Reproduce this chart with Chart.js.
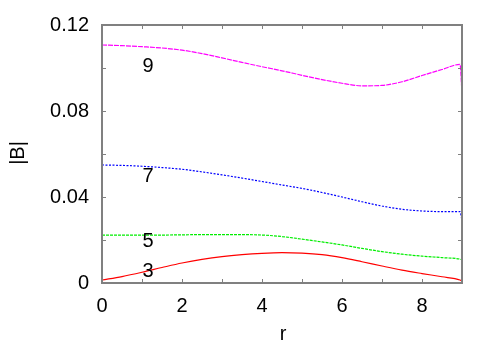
<!DOCTYPE html>
<html><head><meta charset="utf-8">
<script src="https://cdn.jsdelivr.net/npm/chart.js@4/dist/chart.umd.min.js"></script>
<style>html,body{margin:0;padding:0;background:#fff}#wrap{width:500px;height:350px}</style>
</head><body><div id="wrap"><canvas id="c" width="500" height="350"></canvas></div>
<script>
const r = [0,0.5,1,1.5,2,2.5,3,3.5,4,4.5,5,5.5,6,6.5,7,7.5,8,8.5,8.95,9];
const b9 = [0.1107,0.1104,0.1099,0.1093,0.1083,0.1067,0.1047,0.1026,0.1006,0.0987,0.0966,0.0946,0.0929,0.0917,0.0919,0.0936,0.0965,0.0993,0.1017,0.0882];
const b7 = [0.0549,0.0547,0.0543,0.0537,0.0529,0.0517,0.0503,0.0488,0.0472,0.0456,0.0440,0.0421,0.0400,0.0378,0.0358,0.0343,0.0335,0.0332,0.0332,0.0290];
const b5 = [0.0223,0.0223,0.0223,0.0223,0.0224,0.0225,0.0225,0.0225,0.0223,0.0216,0.0204,0.0191,0.0177,0.0161,0.0146,0.0134,0.0125,0.0118,0.0111,0.0108];
const b3 = [0.0014,0.0030,0.0050,0.0072,0.0093,0.0110,0.0123,0.0132,0.0138,0.0141,0.0139,0.0132,0.0118,0.0099,0.0079,0.0060,0.0044,0.0029,0.0014,0.0009];
const seriesLabels = ['9','7','5','3'];
const labelR = 1.15;
const labelVals = [0.1005,0.0497,0.0195,0.0053];
const xTicks = [0,1,2,3,4,5,6,7,8,9];
const yTicks = [0,0.02,0.04,0.06,0.08,0.10,0.12];
const xTitle = 'r';
const yTitle = '|B|';

const FONT = '"Liberation Sans", Arial, sans-serif';
const pts = ys => r.map((x,i)=>({x:x,y:ys[i]}));
const mk = (ys,color,dash)=>({data:pts(ys),borderColor:color,borderWidth:1.2,borderDash:dash,pointRadius:0,cubicInterpolationMode:'monotone',fill:false});

const deco = {
  id:'deco',
  afterDatasetsDraw(chart){
    const ctx=chart.ctx, xs=chart.scales.x, ys=chart.scales.y, a=chart.chartArea;
    ctx.save();
    ctx.strokeStyle='#808080'; ctx.lineWidth=2;
    ctx.strokeRect(a.left,a.top,a.right-a.left,a.bottom-a.top);
    ctx.lineWidth=1;
    ctx.beginPath();
    xTicks.forEach(v=>{const p=Math.round(xs.getPixelForValue(v))+0.5;
      ctx.moveTo(p,a.bottom);ctx.lineTo(p,a.bottom-4);ctx.moveTo(p,a.top);ctx.lineTo(p,a.top+4);});
    yTicks.forEach(v=>{const p=Math.round(ys.getPixelForValue(v))+0.5;
      ctx.moveTo(a.left,p);ctx.lineTo(a.left+4,p);ctx.moveTo(a.right,p);ctx.lineTo(a.right-4,p);});
    ctx.stroke();
    ctx.fillStyle='#000'; ctx.font='20px '+FONT; ctx.textAlign='center'; ctx.textBaseline='middle';
    seriesLabels.forEach((t,i)=>ctx.fillText(t,xs.getPixelForValue(labelR),ys.getPixelForValue(labelVals[i])));
    ctx.fillText(xTitle,(a.left+a.right)/2+1,334);
    ctx.translate(18,153); ctx.rotate(-Math.PI/2); ctx.fillText(yTitle,0,0);
    ctx.restore();
  }
};

new Chart(document.getElementById('c'),{
  type:'line',
  data:{datasets:[mk(b9,'#ff00ff',[5,1]),mk(b7,'#0000ff',[2,1.5]),mk(b5,'#00ee00',[3,1]),mk(b3,'#ff0000',[])]},
  options:{
    responsive:false,animation:false,
    layout:{padding:{top:25,right:38,left:0,bottom:0}},
    plugins:{legend:{display:false},tooltip:{enabled:false}},
    scales:{
      x:{type:'linear',min:0,max:9,
        afterFit(s){s.height=67;},
        afterBuildTicks(s){s.ticks=xTicks.filter(v=>v%2===0).map(v=>({value:v}));},
        grid:{display:false,drawTicks:false},border:{display:false},
        ticks:{padding:11,color:'#000',font:{family:FONT,size:20},maxRotation:0,autoSkip:false}},
      y:{type:'linear',min:0,max:0.12,
        afterFit(s){s.width=102;},
        afterBuildTicks(s){s.ticks=yTicks.filter((v,i)=>i%2===0).map(v=>({value:v}));},
        grid:{display:false,drawTicks:false},border:{display:false},
        ticks:{padding:13,color:'#000',font:{family:FONT,size:20},autoSkip:false,
          callback:v=>v===0?'0':String(+v.toFixed(2))}}
    }
  },
  plugins:[deco]
});
</script></body></html>
